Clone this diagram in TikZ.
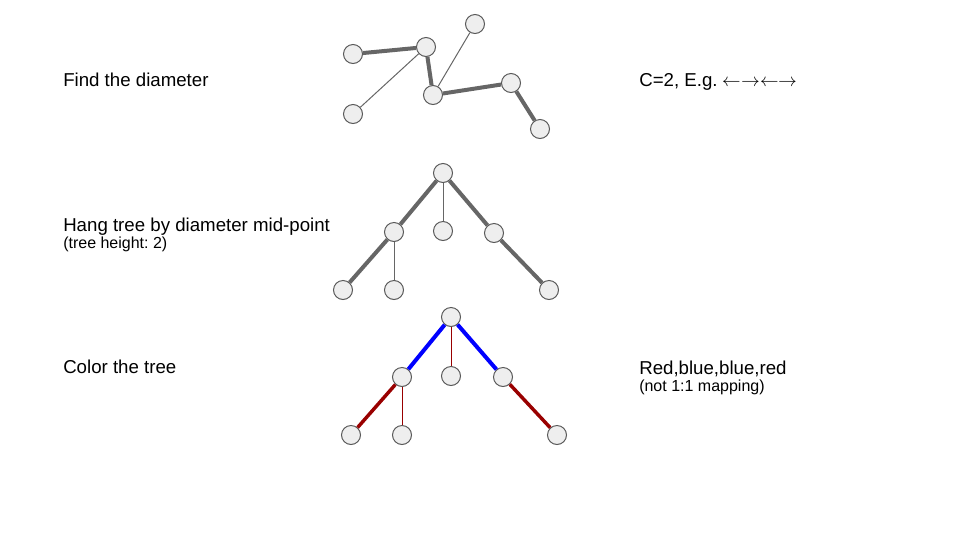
\documentclass[tikz,border=0pt]{standalone}
\usepackage{fontspec}
\setmainfont{Liberation Sans}
\newfontfamily\arrowfont{latinmodern-math.otf}
\frenchspacing
\definecolor{edgegray}{HTML}{666666}
\definecolor{nodefill}{HTML}{EEEEEE}
\definecolor{nodeline}{HTML}{595959}
\definecolor{treered}{HTML}{990000}
\definecolor{treeblue}{HTML}{0000FF}
\tikzset{
  vertex/.style={circle,draw=nodeline,fill=nodefill,line width=0.75pt,
    minimum size=14.25pt,inner sep=0pt},
  caption/.style={anchor=base west,inner sep=0pt,font=\fontsize{14}{17}\selectfont},
  subcaption/.style={anchor=base west,inner sep=0pt,font=\fontsize{12}{14}\selectfont},
}
\begin{document}
\begin{tikzpicture}[x=0.75pt,y=-0.75pt]
      \useasboundingbox (0,0) rectangle (960,540);
      % texts
      \node[caption] (find) at (63,86) {Find the diameter};
      \node[caption] (hang) at (63,231) {Hang tree by diameter mid-point};
      \node[subcaption] (height) at (63,248) {(tree height: 2)};
      \node[caption] (color) at (63,373) {Color the tree};
      \node[caption] (count) at (639,86) {C=2, E.g. {\arrowfont ←→←→}};
      \node[caption] (order) at (639,374) {Red,blue,blue,red};
      \node[subcaption] (mapping) at (639,391) {(not 1:1 mapping)};
      % find the diameter
      \draw
        (353,54) node[vertex] (a1){}
        (426,47) node[vertex] (a2){}
        (475,24) node[vertex] (a3){}
        (353,114) node[vertex] (a4){}
        (433,95) node[vertex] (a5){}
        (511,83) node[vertex] (a6){}
        (540,129) node[vertex] (a7){};
      \begin{scope}[edgegray,line width=3pt]
        \draw (a1) to (a2);
        \draw (a2) to (a5);
        \draw (a5) to (a6);
        \draw (a6) to (a7);
      \end{scope}
      \begin{scope}[edgegray,line width=0.75pt]
        \draw (a2) to (a4);
        \draw (a5) to (a3);
      \end{scope}
      % hang the tree
      \draw
        (443,173) node[vertex] (b1){}
        (394,232) node[vertex] (b2){}
        (443,231) node[vertex] (b3){}
        (494,233) node[vertex] (b4){}
        (343,290) node[vertex] (b5){}
        (394,290) node[vertex] (b6){}
        (549,290) node[vertex] (b7){};
      \begin{scope}[edgegray,line width=3pt]
        \draw (b1) to (b2);
        \draw (b1) to (b4);
        \draw (b2) to (b5);
        \draw (b4) to (b7);
      \end{scope}
      \begin{scope}[edgegray,line width=0.75pt]
        \draw (b1) to (b3);
        \draw (b2) to (b6);
      \end{scope}
      % color the tree
      \draw
        (451,317) node[vertex] (c1){}
        (402,377) node[vertex] (c2){}
        (451,376) node[vertex] (c3){}
        (503,377) node[vertex] (c4){}
        (351,435) node[vertex] (c5){}
        (402,435) node[vertex] (c6){}
        (557,435) node[vertex] (c7){};
      \begin{scope}[treeblue,line width=3pt]
        \draw (c1) to (c2);
        \draw (c1) to (c4);
      \end{scope}
      \begin{scope}[treered,line width=2.6pt]
        \draw (c2) to (c5);
        \draw (c4) to (c7);
      \end{scope}
      \begin{scope}[treered,line width=0.75pt]
        \draw (c1) to (c3);
        \draw (c2) to (c6);
      \end{scope}
    \end{tikzpicture}
\end{document}
